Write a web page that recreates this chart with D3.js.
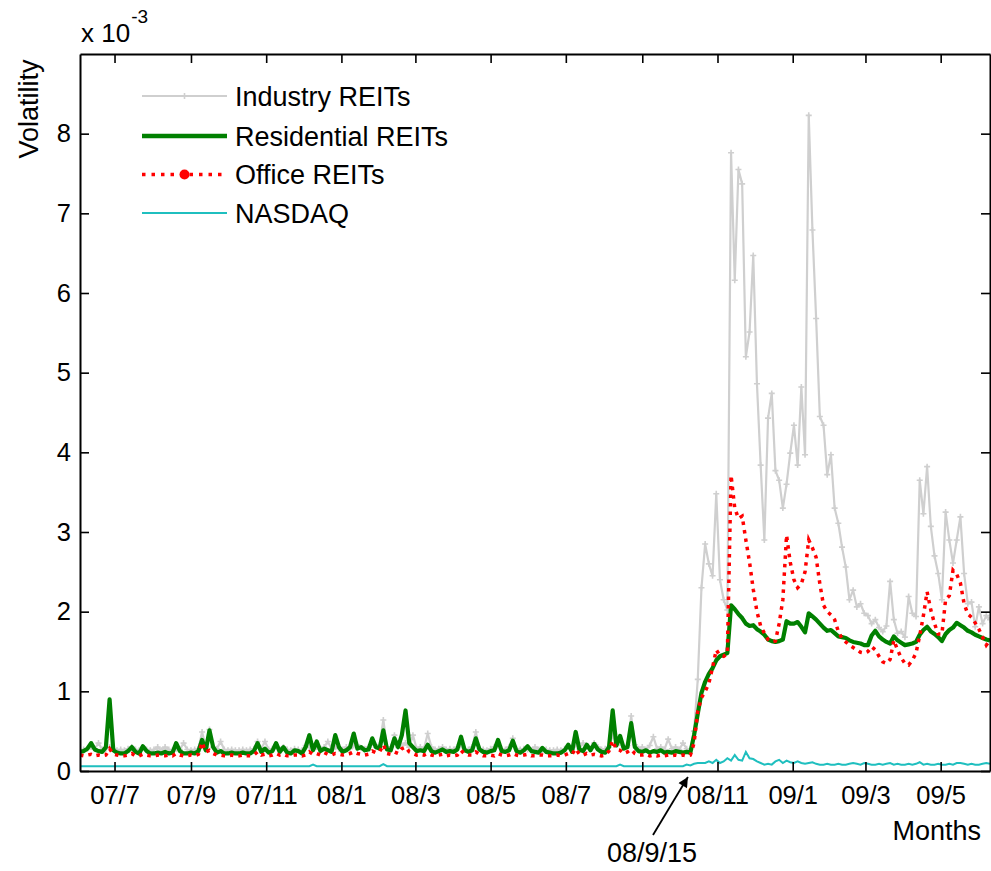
<!DOCTYPE html>
<html><head><meta charset="utf-8">
<script src="https://cdn.jsdelivr.net/npm/d3@7"></script>
<style>
body{margin:0;background:#fff}
text{font-family:"Liberation Sans",Arial,Helvetica,sans-serif;fill:#000}
</style>
</head><body>
<svg id="chart" width="991" height="871"></svg>
<script>
// ---------- data (volatility, units of 1e-3), sampled every 3 days from 2007-06-03 ----------
const startDate = new Date(2007, 5, 3);
const stepDays = 3;

const industryREITs = [
0.26,0.27,0.28,0.3,0.28,0.35,0.27,0.28,0.3,0.28,
0.26,0.27,0.26,0.28,0.3,0.27,0.26,0.3,0.27,0.26,
0.27,0.3,0.26,0.3,0.27,0.26,0.28,0.27,0.35,0.27,
0.26,0.27,0.28,0.49,0.3,0.52,0.3,0.28,0.37,0.27,
0.26,0.27,0.26,0.26,0.27,0.26,0.27,0.28,0.37,0.28,
0.37,0.27,0.28,0.33,0.27,0.3,0.27,0.26,0.28,0.27,
0.26,0.32,0.3,0.28,0.3,0.28,0.3,0.37,0.28,0.3,
0.28,0.27,0.3,0.28,0.32,0.33,0.29,0.28,0.3,0.35,
0.3,0.33,0.64,0.3,0.3,0.45,0.3,0.32,0.35,0.3,
0.45,0.28,0.3,0.28,0.47,0.3,0.27,0.28,0.3,0.27,
0.28,0.27,0.3,0.32,0.28,0.27,0.3,0.49,0.28,0.27,
0.26,0.28,0.3,0.32,0.28,0.27,0.3,0.41,0.28,0.27,
0.28,0.27,0.26,0.3,0.27,0.26,0.27,0.26,0.26,0.27,
0.26,0.28,0.3,0.28,0.33,0.28,0.35,0.3,0.28,0.35,
0.3,0.27,0.28,0.3,0.45,0.33,0.35,0.3,0.32,0.69,
0.33,0.28,0.3,0.27,0.32,0.43,0.28,0.3,0.27,0.4,
0.28,0.3,0.27,0.35,0.28,0.27,0.5,1.15,2.3,2.85,
2.6,2.45,3.48,2.4,2.15,2.02,7.76,6.16,7.55,7.37,
5.2,5.51,6.47,4.86,3.84,2.9,4.43,4.74,3.77,3.65,
3.3,3.6,3.99,4.34,3.84,4.82,3.97,8.23,6.79,5.68,
4.45,4.34,3.72,3.97,3.3,3.11,2.81,2.56,2.15,2.27,
2.06,2.1,1.98,1.95,1.85,1.9,1.8,1.75,1.82,2.38,
1.9,1.73,1.75,1.68,2.19,1.98,1.94,3.65,3.23,3.82,
3.07,2.7,2.48,2.15,3.25,2.9,2.61,2.9,3.19,2.48,
2.1,2.12,1.81,2.06,1.85,1.95,1.9];

const residentialREITs = [
0.24,0.25,0.28,0.35,0.27,0.25,0.24,0.3,0.9,0.26,
0.23,0.22,0.22,0.25,0.3,0.24,0.22,0.31,0.25,0.22,
0.22,0.23,0.22,0.24,0.22,0.23,0.35,0.25,0.22,0.22,
0.23,0.22,0.25,0.39,0.26,0.51,0.3,0.23,0.25,0.22,
0.22,0.23,0.22,0.22,0.23,0.22,0.22,0.25,0.35,0.24,
0.28,0.23,0.25,0.35,0.24,0.3,0.23,0.22,0.26,0.25,
0.22,0.3,0.45,0.26,0.37,0.25,0.28,0.26,0.24,0.45,
0.3,0.24,0.26,0.3,0.47,0.28,0.3,0.26,0.27,0.41,
0.3,0.28,0.51,0.27,0.26,0.41,0.3,0.45,0.76,0.35,
0.3,0.25,0.26,0.25,0.33,0.25,0.23,0.25,0.27,0.24,
0.25,0.24,0.27,0.43,0.26,0.24,0.26,0.41,0.27,0.24,
0.23,0.25,0.26,0.39,0.25,0.24,0.26,0.38,0.25,0.23,
0.26,0.31,0.25,0.24,0.23,0.29,0.24,0.23,0.22,0.22,
0.23,0.26,0.33,0.24,0.49,0.27,0.25,0.33,0.26,0.34,
0.27,0.24,0.23,0.3,0.76,0.32,0.44,0.28,0.3,0.6,
0.3,0.25,0.24,0.26,0.23,0.25,0.24,0.26,0.23,0.24,
0.23,0.25,0.24,0.23,0.24,0.23,0.45,0.72,0.98,1.12,
1.22,1.29,1.39,1.44,1.46,1.48,2.08,2.03,1.97,1.92,
1.85,1.82,1.83,1.78,1.75,1.71,1.65,1.63,1.62,1.63,
1.65,1.88,1.85,1.85,1.87,1.81,1.74,1.98,1.94,1.9,
1.85,1.8,1.76,1.77,1.73,1.69,1.68,1.67,1.64,1.62,
1.61,1.6,1.58,1.58,1.7,1.76,1.69,1.65,1.62,1.6,
1.69,1.64,1.61,1.58,1.59,1.6,1.62,1.71,1.77,1.81,
1.75,1.72,1.68,1.63,1.72,1.77,1.8,1.86,1.83,1.8,
1.76,1.74,1.71,1.69,1.67,1.65,1.64];

const officeREITs = [
0.2,0.19,0.2,0.21,0.19,0.2,0.19,0.2,0.28,0.21,
0.2,0.19,0.19,0.2,0.22,0.19,0.19,0.21,0.2,0.19,
0.19,0.2,0.19,0.19,0.2,0.19,0.22,0.2,0.19,0.19,
0.2,0.19,0.21,0.36,0.24,0.26,0.22,0.2,0.2,0.19,
0.19,0.2,0.19,0.19,0.2,0.19,0.19,0.2,0.24,0.2,
0.21,0.19,0.2,0.22,0.2,0.21,0.19,0.19,0.2,0.2,
0.19,0.2,0.24,0.21,0.22,0.2,0.23,0.21,0.2,0.22,
0.21,0.2,0.21,0.22,0.24,0.22,0.21,0.2,0.21,0.25,
0.23,0.24,0.33,0.22,0.21,0.24,0.22,0.28,0.3,0.24,
0.22,0.2,0.21,0.2,0.22,0.2,0.19,0.2,0.21,0.19,
0.2,0.19,0.2,0.26,0.21,0.2,0.2,0.24,0.21,0.19,
0.19,0.2,0.19,0.22,0.2,0.19,0.2,0.22,0.2,0.19,
0.2,0.21,0.19,0.19,0.2,0.2,0.19,0.19,0.19,0.2,
0.19,0.2,0.22,0.21,0.28,0.21,0.2,0.22,0.2,0.21,
0.2,0.19,0.2,0.25,0.38,0.27,0.26,0.22,0.24,0.27,
0.22,0.2,0.2,0.21,0.19,0.2,0.19,0.2,0.19,0.2,
0.19,0.2,0.19,0.2,0.19,0.2,0.35,0.75,0.92,1.0,
1.1,1.3,1.52,1.45,1.44,1.47,3.71,3.3,3.17,3.2,
2.9,2.62,2.28,2.0,1.82,1.73,1.65,1.62,1.63,1.85,
2.15,2.96,2.62,2.4,2.3,2.35,2.5,2.9,2.8,2.68,
2.35,2.08,2.0,1.96,1.9,1.75,1.66,1.62,1.58,1.55,
1.52,1.49,1.48,1.5,1.56,1.52,1.44,1.37,1.35,1.4,
1.64,1.52,1.42,1.35,1.33,1.39,1.48,1.7,1.95,2.25,
2.02,1.85,1.72,1.72,2.15,2.2,2.52,2.47,2.36,2.1,
1.97,1.93,1.86,1.78,1.68,1.58,1.64];

const nasdaq = [
0.06,0.06,0.06,0.06,0.06,0.06,0.06,0.06,0.06,0.06,
0.06,0.06,0.06,0.06,0.06,0.06,0.06,0.06,0.06,0.06,
0.06,0.06,0.06,0.06,0.06,0.06,0.06,0.06,0.06,0.06,
0.06,0.06,0.06,0.06,0.06,0.06,0.06,0.06,0.06,0.06,
0.06,0.06,0.06,0.06,0.06,0.06,0.06,0.06,0.06,0.06,
0.06,0.06,0.06,0.06,0.06,0.06,0.06,0.06,0.06,0.06,
0.06,0.06,0.06,0.08,0.06,0.06,0.06,0.06,0.06,0.06,
0.06,0.06,0.06,0.06,0.06,0.06,0.06,0.06,0.06,0.06,
0.06,0.06,0.085,0.06,0.06,0.06,0.06,0.06,0.06,0.06,
0.06,0.06,0.06,0.06,0.06,0.06,0.06,0.06,0.06,0.06,
0.06,0.06,0.06,0.06,0.06,0.06,0.06,0.06,0.06,0.06,
0.06,0.06,0.06,0.06,0.06,0.06,0.06,0.06,0.06,0.06,
0.06,0.06,0.06,0.06,0.06,0.06,0.06,0.06,0.06,0.06,
0.06,0.06,0.06,0.06,0.06,0.06,0.06,0.06,0.06,0.06,
0.06,0.06,0.06,0.06,0.06,0.06,0.08,0.06,0.06,0.06,
0.06,0.06,0.06,0.06,0.06,0.06,0.06,0.06,0.06,0.06,
0.06,0.06,0.06,0.06,0.08,0.07,0.09,0.1,0.1,0.1,
0.12,0.1,0.14,0.1,0.12,0.16,0.13,0.2,0.14,0.13,
0.24,0.16,0.15,0.12,0.1,0.08,0.09,0.08,0.12,0.14,
0.1,0.13,0.11,0.1,0.12,0.1,0.09,0.1,0.11,0.09,
0.08,0.08,0.09,0.08,0.08,0.09,0.08,0.08,0.09,0.1,
0.09,0.08,0.1,0.09,0.08,0.08,0.09,0.08,0.09,0.1,
0.08,0.09,0.08,0.08,0.09,0.08,0.09,0.11,0.08,0.09,
0.08,0.08,0.09,0.08,0.08,0.09,0.08,0.1,0.1,0.09,
0.08,0.09,0.08,0.08,0.09,0.1,0.09];

const seriesNames = ["Industry REITs", "Residential REITs", "Office REITs", "NASDAQ"];
const xTickDates = ["2007-07-01","2007-09-01","2007-11-01","2008-01-01","2008-03-01","2008-05-01",
                    "2008-07-01","2008-09-01","2008-11-01","2009-01-01","2009-03-01","2009-05-01"];
const xTickLabels = ["07/7","07/9","07/11","08/1","08/3","08/5","08/7","08/9","08/11","09/1","09/3","09/5"];
const yTicks = [0,1,2,3,4,5,6,7,8];
const yDomain = [0, 9];
const annotationDate = "2008-10-08";
const annotationLabel = "08/9/15";

// ---------- layout ----------
const L = 80, R = 990, T = 54, B = 771;
const svg = d3.select("#chart");
const parse = d3.timeParse("%Y-%m-%d");
const dates = industryREITs.map((_, i) => d3.timeDay.offset(startDate, i * stepDays));

const x = d3.scaleTime().domain([dates[0], dates[dates.length - 1]]).range([L, R]);
const y = d3.scaleLinear().domain(yDomain).range([B, T]);

svg.append("defs").append("clipPath").attr("id", "clip")
  .append("rect").attr("x", L).attr("y", T).attr("width", R - L).attr("height", B - T);

const line = d3.line().x((d, i) => x(dates[i])).y(d => y(d));
const plot = svg.append("g").attr("clip-path", "url(#clip)");

const grey = "#cfcfcf", green = "#008000", red = "#ff0000", cyan = "#1fbfbf";

// Industry REITs
plot.append("path").attr("d", line(industryREITs)).attr("fill", "none")
  .attr("stroke", grey).attr("stroke-width", 2.2).attr("stroke-linejoin", "round");
plot.append("g").selectAll("path").data(industryREITs).join("path")
  .attr("transform", (d, i) => `translate(${x(dates[i])},${y(d)})`)
  .attr("d", "M-3,0H3M0,-3V3").attr("stroke", grey).attr("stroke-width", 1.6);
// Residential REITs
plot.append("path").attr("d", line(residentialREITs)).attr("fill", "none")
  .attr("stroke", green).attr("stroke-width", 4.2).attr("stroke-linejoin", "round");
// Office REITs
plot.append("path").attr("d", line(officeREITs)).attr("fill", "none")
  .attr("stroke", red).attr("stroke-width", 3.5).attr("stroke-dasharray", "3.5,5");
// NASDAQ
plot.append("path").attr("d", line(nasdaq)).attr("fill", "none")
  .attr("stroke", cyan).attr("stroke-width", 2);

// ---------- axes ----------
const tickDates = xTickDates.map(parse);
const fs = 25.5;
const axB = d3.axisBottom(x).tickValues(tickDates).tickFormat((d, i) => xTickLabels[i])
  .tickSizeInner(-9).tickSizeOuter(0).tickPadding(15);
const axT = d3.axisTop(x).tickValues(tickDates).tickFormat("").tickSizeInner(-9).tickSizeOuter(0);
const axL = d3.axisLeft(y).tickValues(yTicks).tickFormat(d3.format("d"))
  .tickSizeInner(-9).tickSizeOuter(0).tickPadding(9);
const axR = d3.axisRight(y).tickValues(yTicks).tickFormat("").tickSizeInner(-9).tickSizeOuter(0);

function style(g) {
  g.select(".domain").attr("stroke", "#000").attr("stroke-width", 2);
  g.selectAll(".tick line").attr("stroke", "#000").attr("stroke-width", 1.6);
  g.selectAll(".tick text").attr("font-size", fs).attr("font-family", '"Liberation Sans",Arial,sans-serif').attr("fill", "#000");
}
svg.append("g").attr("transform", `translate(0,${B})`).call(axB).call(style);
svg.append("g").attr("transform", `translate(0,${T})`).call(axT).call(style);
svg.append("g").attr("transform", `translate(${L},0)`).call(axL).call(style);
svg.append("g").attr("transform", `translate(${R},0)`).call(axR).call(style);

// ---------- labels ----------
svg.append("text").attr("transform", "translate(38,109) rotate(-90)")
  .attr("text-anchor", "middle").attr("font-size", 27).text("Volatility");
svg.append("text").attr("x", 981).attr("y", 840).attr("text-anchor", "end")
  .attr("font-size", 27).text("Months");
const exp = svg.append("text").attr("x", 81).attr("y", 42).attr("font-size", 26);
exp.append("tspan").text("x 10");
exp.append("tspan").attr("font-size", 19).attr("dy", -19).attr("dx", 1).text("-3");

// ---------- annotation ----------
svg.append("defs").append("marker").attr("id", "arrow")
  .attr("viewBox", "0 0 10 10").attr("refX", 10).attr("refY", 5)
  .attr("markerWidth", 13).attr("markerHeight", 10).attr("markerUnits", "userSpaceOnUse")
  .attr("orient", "auto").append("path").attr("d", "M0,0L10,5L0,10z").attr("fill", "#000");
const ax = x(parse(annotationDate));
svg.append("line").attr("x1", 653).attr("y1", 835).attr("x2", ax).attr("y2", B + 6)
  .attr("stroke", "#000").attr("stroke-width", 1.8).attr("marker-end", "url(#arrow)");
svg.append("text").attr("x", 652).attr("y", 862).attr("text-anchor", "middle")
  .attr("font-size", 27).text(annotationLabel);

// ---------- legend ----------
const legY = [96, 136, 174.5, 213];
const lg = svg.append("g");
const lx1 = 142, lx2 = 227, lmid = (lx1 + lx2) / 2;
const styles = [
  {stroke: grey, w: 2.2, dash: null},
  {stroke: green, w: 4.5, dash: null},
  {stroke: red, w: 3.5, dash: "3.5,6"},
  {stroke: cyan, w: 2, dash: null}
];
seriesNames.forEach((name, i) => {
  const s = styles[i];
  lg.append("line").attr("x1", lx1).attr("x2", lx2).attr("y1", legY[i]).attr("y2", legY[i])
    .attr("stroke", s.stroke).attr("stroke-width", s.w).attr("stroke-dasharray", s.dash);
  lg.append("text").attr("x", 235).attr("y", legY[i] + 9.5).attr("font-size", 27).text(name);
});
lg.append("path").attr("transform", `translate(${lmid},${legY[0]})`)
  .attr("d", "M-3,0H3M0,-3V3").attr("stroke", grey).attr("stroke-width", 1.6);
lg.append("circle").attr("cx", lmid).attr("cy", legY[2]).attr("r", 5).attr("fill", red);
</script>
</body></html>
